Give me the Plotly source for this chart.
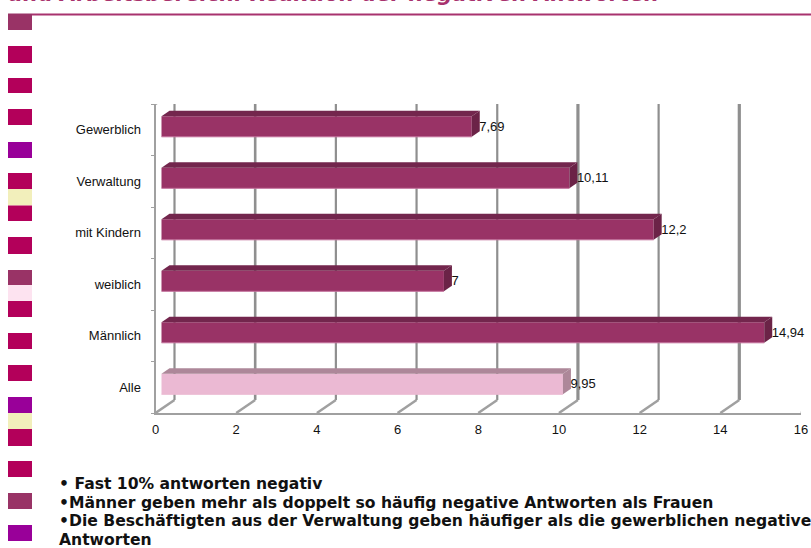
import plotly.graph_objects as go

categories = ["Alle", "Männlich", "weiblich", "mit Kindern", "Verwaltung", "Gewerblich"]
values = [9.95, 14.94, 7, 12.2, 10.11, 7.69]
value_labels = ["9,95", "14,94", "7", "12,2", "10,11", "7,69"]
x_ticks = [0, 2, 4, 6, 8, 10, 12, 14, 16]
grid_widths = [2.2, 2.6, 2.2, 2.2, 2.2, 3.2, 2.2, 3.2, 2.2]

W, H = 811, 548
PLOT_L, PLOT_R, PLOT_T, PLOT_B = 155.5, 801, 104, 413
px_x = (PLOT_R - PLOT_L) / 16
px_y = (PLOT_B - PLOT_T) / 6

# depth of the extruded look, expressed in axis units
WALL_DX, WALL_DY = 19 / px_x, 13 / px_y
BAR_BASE = 6 / px_x
BAR_DX, BAR_DY = 8 / px_x, 5.5 / px_y
BAR_W = 20.5 / px_y
BAR_SHIFT = 3.2 / px_y

bar_face = ["#EBB9D3", "#993366", "#993366", "#993366", "#993366", "#993366"]
bar_top = ["#AD8799", "#73264D", "#73264D", "#73264D", "#73264D", "#73264D"]
bar_side = ["#AD8799", "#6B2347", "#6B2347", "#6B2347", "#6B2347", "#6B2347"]
bar_edge = ["#EBB9D3", "#C2709B", "#C2709B", "#C2709B", "#C2709B", "#C2709B"]

fig = go.Figure()

# back wall gridlines and floor diagonals live on the first subplot, underneath the bars
for t, lw in zip(x_ticks, grid_widths):
    fig.add_trace(go.Scatter(x=[t + WALL_DX, t + WALL_DX], y=[-0.5 + WALL_DY, 5.5 + WALL_DY],
                             mode="lines", line=dict(color="#8F8F8F", width=lw),
                             hoverinfo="skip", showlegend=False, cliponaxis=False,
                             xaxis="x", yaxis="y"))
    fig.add_trace(go.Scatter(x=[t, t + WALL_DX], y=[-0.5, -0.5 + WALL_DY],
                             mode="lines", line=dict(color="#A0A0A0", width=2.5),
                             hoverinfo="skip", showlegend=False, cliponaxis=False,
                             xaxis="x", yaxis="y"))
fig.add_trace(go.Scatter(x=[0, WALL_DX], y=[5.5, 5.5 + WALL_DY], mode="lines",
                         line=dict(color="#A0A0A0", width=2.5),
                         hoverinfo="skip", showlegend=False, cliponaxis=False,
                         xaxis="x", yaxis="y"))

# front faces of the bars
fig.add_trace(go.Bar(
    y=list(range(len(categories))), x=values, base=BAR_BASE, orientation="h",
    width=BAR_W, offset=BAR_SHIFT - BAR_W / 2,
    marker=dict(color=bar_face, line=dict(width=0)),
    hovertemplate="%{y}: %{x}<extra></extra>", showlegend=False,
    xaxis="x2", yaxis="y2"))

# top and end faces of each bar, plus the light lower edge
for i, v in enumerate(values):
    left = BAR_BASE
    right = BAR_BASE + v
    low = i + BAR_SHIFT - BAR_W / 2
    high = i + BAR_SHIFT + BAR_W / 2
    fig.add_trace(go.Scatter(
        x=[left, right, right + BAR_DX, left + BAR_DX, left],
        y=[high, high, high + BAR_DY, high + BAR_DY, high],
        mode="lines", fill="toself", fillcolor=bar_top[i], line=dict(width=0),
        hoverinfo="skip", showlegend=False, cliponaxis=False, xaxis="x2", yaxis="y2"))
    fig.add_trace(go.Scatter(
        x=[right, right + BAR_DX, right + BAR_DX, right, right],
        y=[low, low + BAR_DY, high + BAR_DY, high, low],
        mode="lines", fill="toself", fillcolor=bar_side[i], line=dict(width=0),
        hoverinfo="skip", showlegend=False, cliponaxis=False, xaxis="x2", yaxis="y2"))
    fig.add_trace(go.Scatter(
        x=[left, right], y=[low, low], mode="lines",
        line=dict(color=bar_edge[i], width=1),
        hoverinfo="skip", showlegend=False, cliponaxis=False, xaxis="x2", yaxis="y2"))

# value labels sit just past the end face of each bar
fig.add_trace(go.Scatter(
    x=[BAR_BASE + v + BAR_DX - 0.5 / px_x for v in values],
    y=[i + BAR_SHIFT - 0.02 for i in range(len(values))],
    mode="text", text=value_labels, textposition="middle right",
    textfont=dict(family="Liberation Sans", size=13, color="#111111"),
    hoverinfo="skip", showlegend=False, cliponaxis=False, xaxis="x2", yaxis="y2"))

# the colour strip down the left edge
strip = [
    (13.5, 30, "#993366"), (46, 63, "#B3005A"), (78, 93, "#B3005A"), (109, 125, "#B3005A"),
    (142, 158, "#990099"), (173, 189, "#B3005A"), (189, 205.5, "#F2EFBB"), (205.5, 221, "#B3005A"),
    (237, 254, "#B3005A"), (270, 285, "#993366"), (285, 301, "#FDE3F0"), (301, 317, "#B3005A"),
    (333, 349, "#B3005A"), (365, 381, "#B3005A"), (397, 413, "#990099"), (413, 429, "#F2EFBB"),
    (429, 446, "#B3005A"), (461, 477, "#B3005A"), (493, 509, "#993366"), (525, 541, "#990099"),
]
shapes = [dict(type="rect", xref="paper", yref="paper", x0=8 / W, x1=32 / W,
               y0=1 - b / H, y1=1 - a / H, fillcolor=c, line=dict(width=0), layer="below")
          for a, b, c in strip]
shapes.append(dict(type="line", xref="paper", yref="paper", x0=32 / W, x1=1,
                   y0=1 - 14.5 / H, y1=1 - 14.5 / H, line=dict(color="#A8326E", width=2)))

body_font = dict(family="DejaVu Sans", size=15.6, color="#111111", weight="bold")
notes = [
    (57, 484, "• Fast 10% antworten negativ"),
    (57, 502.5, "•Männer geben mehr als doppelt so häufig negative Antworten als Frauen"),
    (57, 521, "•Die Beschäftigten aus der Verwaltung geben häufiger als die gewerblichen negative"),
    (57, 539.5, "Antworten"),
]
annotations = [dict(xref="paper", yref="paper", x=x / W, y=1 - y / H, text=t, showarrow=False,
                    xanchor="left", yanchor="middle", align="left", font=body_font)
               for x, y, t in notes]
annotations.append(dict(xref="paper", yref="paper", x=6 / W, y=1 + 6 / H,
                        text="<i>und Arbeitsbereich: Reaktion der negativen Antworten</i>",
                        showarrow=False, xanchor="left", yanchor="middle",
                        font=dict(family="DejaVu Sans", size=21, color="#A8326E", weight="bold")))

x_domain = [PLOT_L / W, PLOT_R / W]
y_domain = [1 - PLOT_B / H, 1 - PLOT_T / H]
tick_font = dict(family="Liberation Sans", size=13, color="#111111")

fig.update_layout(
    width=W, height=H, margin=dict(l=0, r=0, t=0, b=0, autoexpand=False),
    paper_bgcolor="white", plot_bgcolor="rgba(0,0,0,0)", barmode="overlay",
    shapes=shapes, annotations=annotations, showlegend=False,
    xaxis=dict(domain=x_domain, range=[0, 16], visible=False, anchor="y"),
    yaxis=dict(domain=y_domain, range=[-0.5, 5.5], visible=False, anchor="x"),
    xaxis2=dict(domain=x_domain, range=[0, 16], tickvals=x_ticks, anchor="y2",
                showgrid=False, zeroline=False, showline=True, linecolor="#A0A0A0", linewidth=2,
                ticks="", tickfont=tick_font, ticklabelstandoff=3),
    yaxis2=dict(domain=y_domain, range=[-0.5, 5.5], anchor="x2",
                tickvals=list(range(len(categories))), ticktext=categories,
                showgrid=False, zeroline=False, showline=True, linecolor="#A0A0A0", linewidth=2,
                ticks="", ticklabelstandoff=10, tickfont=tick_font,
                minor=dict(tickvals=[-0.5, 0.5, 1.5, 2.5, 3.5, 4.5, 5.5], ticks="outside",
                           ticklen=3, tickcolor="#A0A0A0", tickwidth=1)),
)

fig.write_html("out.html")
